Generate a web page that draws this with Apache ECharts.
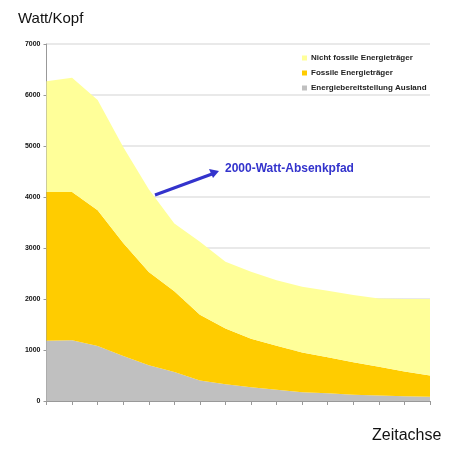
<!DOCTYPE html>
<html>
<head>
<meta charset="utf-8">
<script src="https://cdn.jsdelivr.net/npm/echarts@6/dist/echarts.min.js"></script>
<style>html,body{margin:0;padding:0;background:#fff}#c{width:452px;height:449px}</style>
</head>
<body>
<div id="c"></div>
<script>
var categories = ['', '', '', '', '', '', '', '', '', '', '', '', '', '', '', ''];
var ausland = [1180, 1190, 1080, 880, 700, 570, 400, 330, 270, 220, 170, 150, 125, 110, 95, 85];
var fossil = [2920, 2910, 2660, 2220, 1830, 1580, 1290, 1090, 950, 865, 780, 710, 635, 560, 485, 415];
var nichtFossil = [2170, 2240, 2160, 1880, 1620, 1330, 1435, 1310, 1315, 1285, 1290, 1300, 1320, 1340, 1420, 1500];
var yTicks = [0, 1000, 2000, 3000, 4000, 5000, 6000, 7000];
var seriesNames = ['Nicht fossile Energieträger', 'Fossile Energieträger', 'Energiebereitstellung Ausland'];

var chart = echarts.init(document.getElementById('c'), null, {renderer: 'canvas'});
function area(name, data, color) {
  return {
    name: name, type: 'line', stack: 'total', data: data, symbol: 'none',
    lineStyle: {width: 0}, areaStyle: {color: color, opacity: 1}, itemStyle: {color: color},
    emphasis: {disabled: true}, z: 2
  };
}
chart.setOption({
  animation: false,
  backgroundColor: '#fff',
  textStyle: {fontFamily: 'Liberation Sans, Arial, sans-serif'},
  grid: {left: 46.5, right: 22, top: 44, bottom: 48, containLabel: false},
  legend: {
    data: seriesNames, orient: 'vertical', left: 297, top: 49,
    itemWidth: 5, itemHeight: 5, itemGap: 7, icon: 'rect',
    textStyle: {fontSize: 8, fontWeight: 'bold', color: '#222', padding: [0, 0, 0, -1]}
  },
  xAxis: {
    type: 'category', data: categories, boundaryGap: false,
    axisLine: {lineStyle: {color: '#999', width: 1}},
    axisTick: {show: true, interval: 0, length: 4, lineStyle: {color: '#999'}},
    axisLabel: {show: false}, splitLine: {show: false}
  },
  yAxis: {
    type: 'value', min: 0, max: 7000, interval: 1000,
    axisLine: {show: true, lineStyle: {color: '#999'}},
    axisTick: {show: true, length: 3, lineStyle: {color: '#999'}},
    axisLabel: {fontSize: 7, fontWeight: 'bold', color: '#111', margin: 6,
      formatter: function (v) { return yTicks.indexOf(v) >= 0 ? String(v) : ''; }},
    splitLine: {show: true, lineStyle: {color: '#e2e2e2', width: 1.5}}
  },
  graphic: [
    {type: 'text', left: 18, top: 11, style: {text: 'Watt/Kopf', fontSize: 15, fill: '#111', fontFamily: 'Liberation Sans, Arial'}},
    {type: 'text', left: 372, top: 428, style: {text: 'Zeitachse', fontSize: 16, fill: '#111', fontFamily: 'Liberation Sans, Arial'}},
    {type: 'line', shape: {x1: 155, y1: 195, x2: 212, y2: 174}, style: {stroke: '#3333cc', lineWidth: 3}, z: 10},
    {type: 'polygon', shape: {points: [[219, 171], [209, 169], [213, 178]]}, style: {fill: '#3333cc'}, z: 10},
    {type: 'text', left: 225, top: 163, style: {text: '2000-Watt-Absenkpfad', fontSize: 12, fontWeight: 'bold', fill: '#3333cc', fontFamily: 'Liberation Sans Narrow, Liberation Sans, Arial'}, z: 10}
  ],
  series: [
    area(seriesNames[2], ausland, '#c0c0c0'),
    area(seriesNames[1], fossil, '#ffcc00'),
    area(seriesNames[0], nichtFossil, '#ffff99')
  ]
});
</script>
</body>
</html>
